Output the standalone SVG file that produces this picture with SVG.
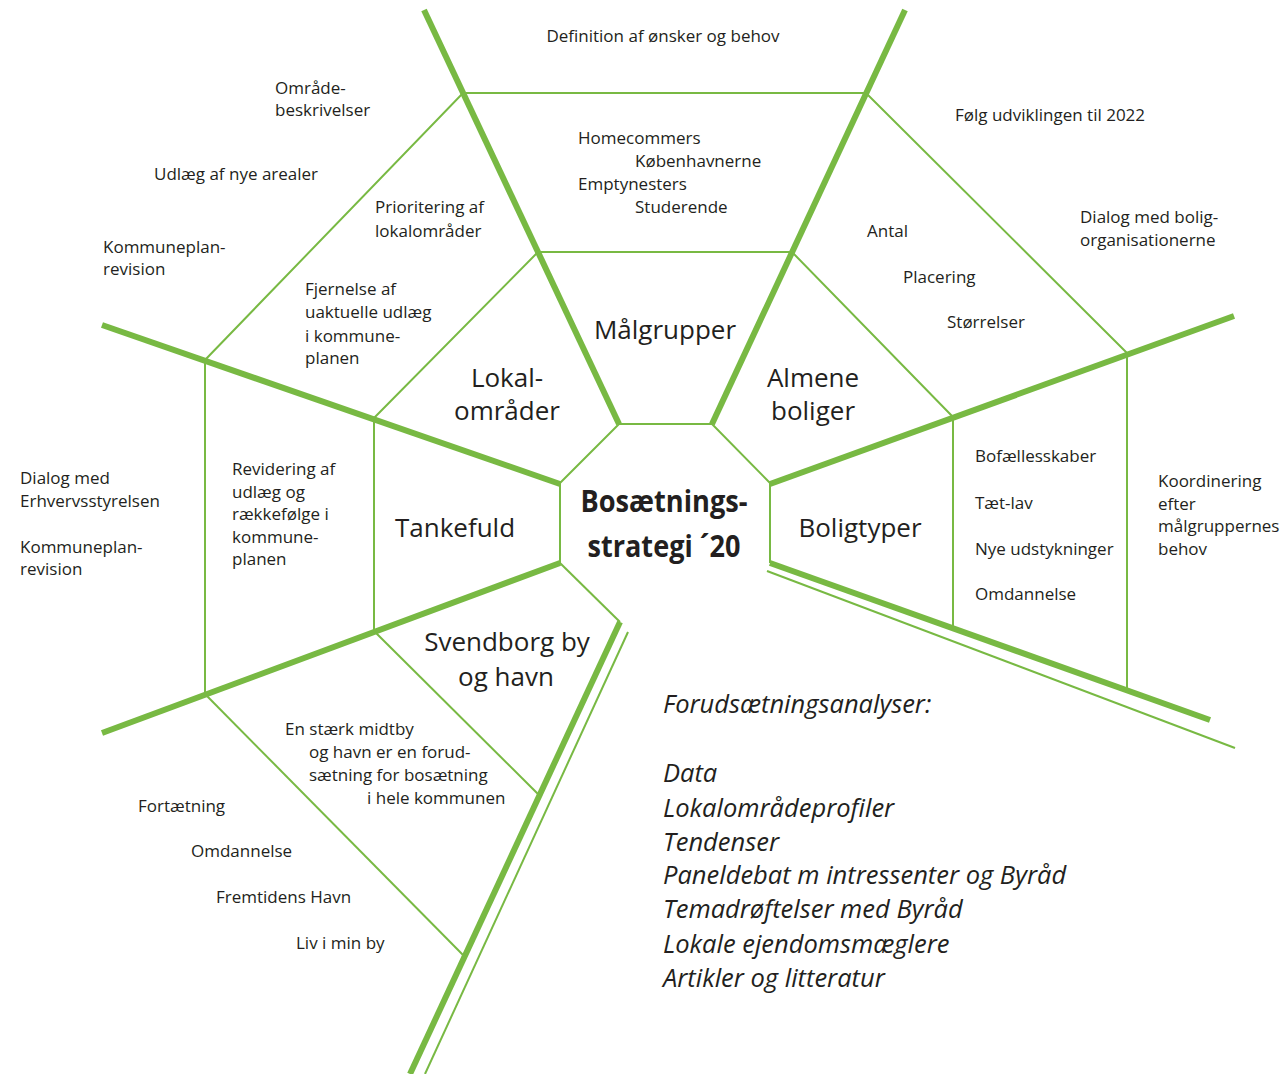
<svg xmlns="http://www.w3.org/2000/svg" width="1288" height="1074" viewBox="0 0 1288 1074">
<style>
.thick{stroke:#78b943;stroke-width:6;fill:none;stroke-linecap:butt}
.thin{stroke:#78b943;stroke-width:2;fill:none}
text{font-family:"Open Sans","Noto Sans","Liberation Sans",sans-serif;fill:#231f20}
.s{font-size:17px}
.b{font-size:26px;text-anchor:middle}
.i{font-size:25.5px;font-style:italic}
.t{font-size:30px;font-weight:bold;text-anchor:middle}
</style>
<rect width="1288" height="1074" fill="#ffffff"/>
<g id="connectors">
<line class="thick" x1="424" y1="10" x2="619" y2="424"/>
<line class="thick" x1="905" y1="10" x2="712" y2="424"/>
<line class="thick" x1="102" y1="325" x2="560" y2="484"/>
<line class="thick" x1="1234" y1="316" x2="770" y2="484"/>
<line class="thick" x1="102" y1="733" x2="560" y2="563"/>
<line class="thick" x1="770" y1="563" x2="1210" y2="720"/>
<line class="thin" x1="767" y1="571" x2="1235" y2="748"/>
<line class="thick" x1="620" y1="622" x2="410" y2="1074"/>
<line class="thin" x1="628" y1="632" x2="425" y2="1074"/>
<polyline class="thin" points="560,483 619,424 712,424 770,483"/>
<line class="thin" x1="560" y1="483" x2="560" y2="563"/>
<line class="thin" x1="770" y1="483" x2="770" y2="563"/>
<line class="thin" x1="560" y1="563" x2="620" y2="622"/>
<line class="thin" x1="374" y1="631" x2="540" y2="796"/>
<line class="thin" x1="205" y1="694" x2="465" y2="957"/>
<polyline class="thin" points="205,360 463,93 866,93 1127,353"/>
<polyline class="thin" points="374,418 538,252 792,252 953,417"/>
<line class="thin" x1="374" y1="418" x2="374" y2="631"/>
<line class="thin" x1="205" y1="360" x2="205" y2="694"/>
<line class="thin" x1="953" y1="417" x2="953" y2="628"/>
<line class="thin" x1="1127" y1="353" x2="1127" y2="688"/>
</g>
<g id="center">
<text class="t" x="664" y="512" textLength="167" lengthAdjust="spacingAndGlyphs">Bosætnings-</text>
<text class="t" x="664" y="557" textLength="153" lengthAdjust="spacingAndGlyphs">strategi ´20</text>
</g>
<g id="maalgrupper">
<text class="b" x="665" y="339">Målgrupper</text>
<text class="s" x="578" y="144">Homecommers</text>
<text class="s" x="635" y="167">Københavnerne</text>
<text class="s" x="578" y="190">Emptynesters</text>
<text class="s" x="635" y="213">Studerende</text>
<text class="s" x="663" y="42" text-anchor="middle">Definition af ønsker og behov</text>
</g>
<g id="lokalomraader">
<text class="b" x="507" y="387">Lokal-</text>
<text class="b" x="507" y="420">områder</text>
<text class="s" x="375" y="213">Prioritering af</text>
<text class="s" x="375" y="237">lokalområder</text>
<text class="s" x="305" y="295">Fjernelse af</text>
<text class="s" x="305" y="318">uaktuelle udlæg</text>
<text class="s" x="305" y="342">i kommune-</text>
<text class="s" x="305" y="364">planen</text>
<text class="s" x="275" y="94">Område-</text>
<text class="s" x="275" y="116">beskrivelser</text>
<text class="s" x="154" y="180">Udlæg af nye arealer</text>
<text class="s" x="103" y="253">Kommuneplan-</text>
<text class="s" x="103" y="275">revision</text>
</g>
<g id="almene">
<text class="b" x="813" y="387">Almene</text>
<text class="b" x="813" y="420">boliger</text>
<text class="s" x="867" y="237">Antal</text>
<text class="s" x="903" y="283">Placering</text>
<text class="s" x="947" y="328">Størrelser</text>
<text class="s" x="955" y="121">Følg udviklingen til 2022</text>
<text class="s" x="1080" y="223">Dialog med bolig-</text>
<text class="s" x="1080" y="246">organisationerne</text>
</g>
<g id="tankefuld">
<text class="b" x="455" y="537">Tankefuld</text>
<text class="s" x="232" y="475">Revidering af</text>
<text class="s" x="232" y="498">udlæg og</text>
<text class="s" x="232" y="520">rækkefølge i</text>
<text class="s" x="232" y="543">kommune-</text>
<text class="s" x="232" y="565">planen</text>
<text class="s" x="20" y="484">Dialog med</text>
<text class="s" x="20" y="507">Erhvervsstyrelsen</text>
<text class="s" x="20" y="553">Kommuneplan-</text>
<text class="s" x="20" y="575">revision</text>
</g>
<g id="boligtyper">
<text class="b" x="860" y="537">Boligtyper</text>
<text class="s" x="975" y="462">Bofællesskaber</text>
<text class="s" x="975" y="509">Tæt-lav</text>
<text class="s" x="975" y="555">Nye udstykninger</text>
<text class="s" x="975" y="600">Omdannelse</text>
<text class="s" x="1158" y="487">Koordinering</text>
<text class="s" x="1158" y="510">efter</text>
<text class="s" x="1158" y="532">målgruppernes</text>
<text class="s" x="1158" y="555">behov</text>
</g>
<g id="svendborg">
<text class="b" x="507" y="651">Svendborg by</text>
<text class="b" x="506" y="686">og havn</text>
<text class="s" x="285" y="735">En stærk midtby</text>
<text class="s" x="309" y="758">og havn er en forud-</text>
<text class="s" x="309" y="781">sætning for bosætning</text>
<text class="s" x="367" y="804">i hele kommunen</text>
<text class="s" x="138" y="812">Fortætning</text>
<text class="s" x="191" y="857">Omdannelse</text>
<text class="s" x="216" y="903">Fremtidens Havn</text>
<text class="s" x="296" y="949">Liv i min by</text>
</g>
<g id="forudsaetninger">
<text class="i" x="663" y="713">Forudsætningsanalyser:</text>
<text class="i" x="663" y="782">Data</text>
<text class="i" x="663" y="817">Lokalområdeprofiler</text>
<text class="i" x="663" y="851">Tendenser</text>
<text class="i" x="663" y="884">Paneldebat m intressenter og Byråd</text>
<text class="i" x="663" y="918">Temadrøftelser med Byråd</text>
<text class="i" x="663" y="953">Lokale ejendomsmæglere</text>
<text class="i" x="663" y="987">Artikler og litteratur</text>
</g>
</svg>
